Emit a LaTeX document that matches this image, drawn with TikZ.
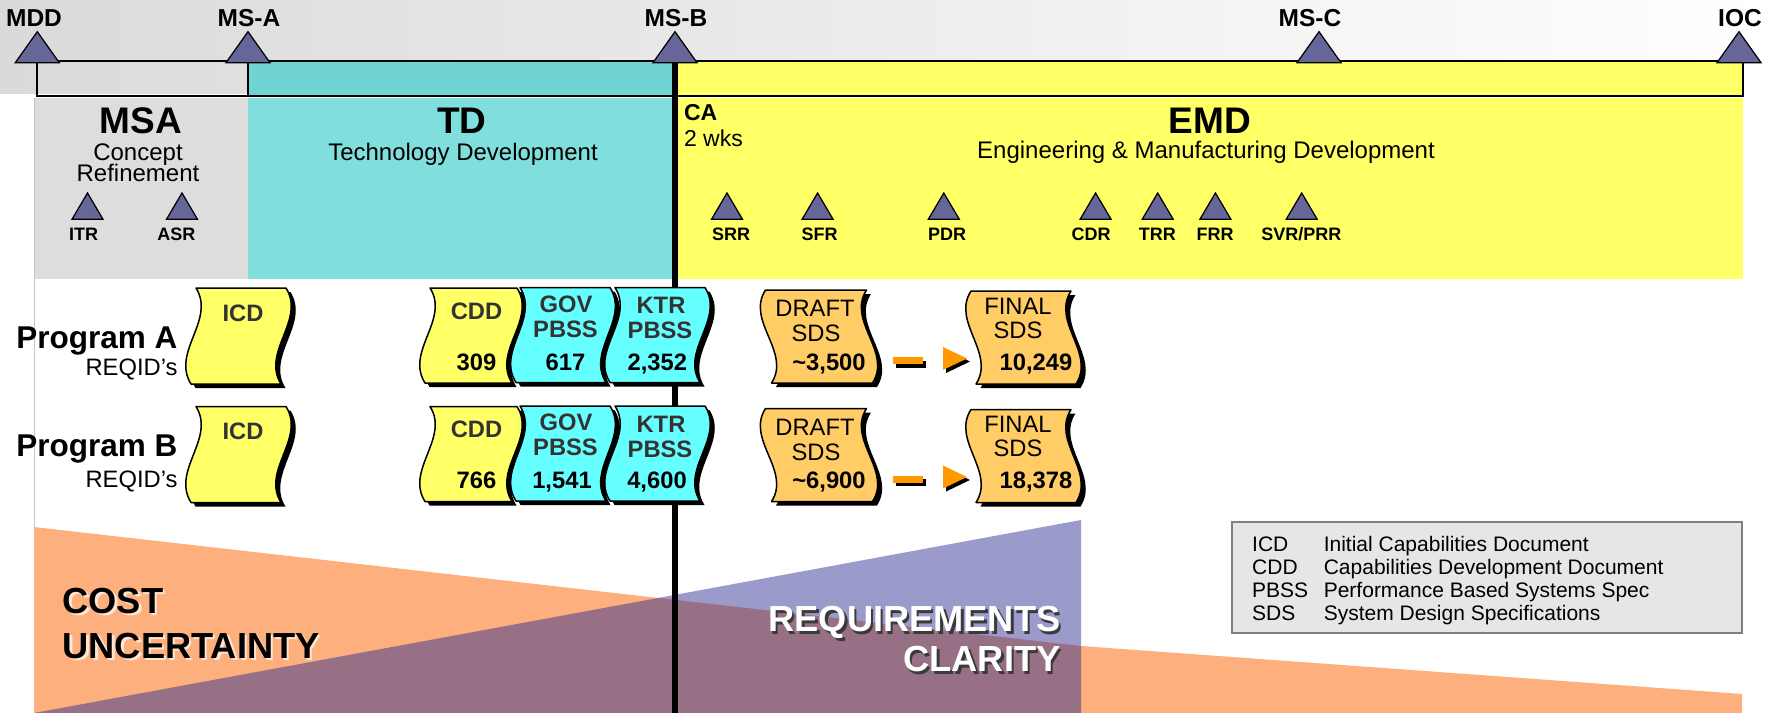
\documentclass[tikz,border=0pt]{standalone}
\usepackage{fontspec}
\setmainfont{Liberation Sans}

\definecolor{msfill}{HTML}{666699}
\definecolor{bandgray}{HTML}{DADADA}
\definecolor{msagray}{HTML}{DDDDDD}
\definecolor{tealdark}{HTML}{70D4D2}
\definecolor{teallight}{HTML}{80DFDD}
\definecolor{phaseyellow}{HTML}{FFFF66}
\definecolor{docyellow}{HTML}{FFFF66}
\definecolor{doccyan}{HTML}{66FFFF}
\definecolor{docorange}{HTML}{FFCC66}
\definecolor{arroworange}{HTML}{FF9900}
\definecolor{costorange}{HTML}{FDB07E}
\definecolor{costshadow}{HTML}{FFE6D2}
\definecolor{reqpurple}{RGB}{40,40,145}
\definecolor{reqshadow}{HTML}{3A3A3A}
\definecolor{legendfill}{HTML}{E6E6E6}
\definecolor{legendline}{HTML}{808080}
\definecolor{doctext}{HTML}{333333}

\newcommand{\fsz}[1]{\fontsize{#1}{#1}\selectfont}

% wavy document sheet with a drop shadow:
% name, left x of top edge, top y, width, height, bottom shift, wave reach, fill
\newcommand{\docbox}[8]{%
  \begin{scope}[shift={(#2,#3)}]
    \begin{scope}[shift={(4.5,4)}]
      \fill[black] (0,0) -- (#4,0)
        .. controls ({#4+(#7)},{#5/3}) and ({#4+(#6)-(#7)},{2*#5/3}) .. ({#4+(#6)},#5)
        -- (#6,#5)
        .. controls ({(#6)-(#7)},{2*#5/3}) and (#7,{#5/3}) .. (0,0) -- cycle;
    \end{scope}
    \filldraw[fill=#8, draw=black, line width=0.6pt, line join=round] (0,0) -- (#4,0)
      .. controls ({#4+(#7)},{#5/3}) and ({#4+(#6)-(#7)},{2*#5/3}) .. ({#4+(#6)},#5)
      -- (#6,#5)
      .. controls ({(#6)-(#7)},{2*#5/3}) and (#7,{#5/3}) .. (0,0) -- cycle;
    \coordinate (#1) at ({#4/2},{#5/2});
  \end{scope}}

% orange dash-and-head arrow between the SDS sheets, anchored at its left end
\newcommand{\sdsarrow}[1]{%
  \begin{scope}[shift={(#1)}]
    \fill[black] (3,3.5) rectangle (33,10.5);
    \fill[arroworange] (0,0) rectangle (30,7);
    \fill[black] (53,-7) -- (77,4.5) -- (53,16) -- cycle;
    \fill[arroworange] (50,-10) -- (74,1.5) -- (50,13) -- cycle;
  \end{scope}}

\begin{document}
\begin{tikzpicture}[x=0.4pt, y=-0.4pt,
  mslabel/.style={font=\bfseries\fsz{9.8pt}, anchor=base, inner sep=0pt},
  revlabel/.style={font=\bfseries\fsz{7.2pt}, anchor=base, inner sep=0pt},
  phasebig/.style={font=\bfseries\fsz{14.8pt}, anchor=base, inner sep=0pt},
  phasesub/.style={font=\fsz{9.6pt}, anchor=base, inner sep=0pt},
  progname/.style={font=\bfseries\fsz{12.6pt}, anchor=base east, inner sep=0pt},
  progsub/.style={font=\fsz{9.5pt}, anchor=base east, inner sep=0pt},
  doctitle/.style={font=\bfseries\fsz{9.5pt}, text=doctext, anchor=base, inner sep=0pt},
  docnum/.style={font=\bfseries\fsz{9.5pt}, anchor=base, inner sep=0pt},
  sdstitle/.style={font=\fsz{9.5pt}, anchor=base, inner sep=0pt},
  bigword/.style={font=\bfseries\fsz{14.5pt}, inner sep=0pt},
  legtext/.style={font=\fsz{8.4pt}, anchor=base west, inner sep=0pt},
  milestone/.style={fill=msfill, draw=black, line width=0.5pt, line join=miter},
  bracket/.style={line width=0.7pt},
]
\useasboundingbox (0,0) rectangle (1768,713);

% top band
\shade[left color=bandgray, right color=white] (0,0) rectangle (1768,93);

% milestone bracket
\fill[tealdark] (248,61) rectangle (675,95.7);
\fill[phaseyellow] (675,61) rectangle (1742.7,95.7);
\draw[bracket] (37.3,61) -- (1742.7,61);
\draw[bracket] (37.3,61) -- (37.3,95.7) -- (1742.7,95.7) -- (1742.7,61);
\draw[bracket] (248,61) -- (248,95.7);

% phase panels
\fill[msagray] (34,97.7) rectangle (248,278.5);
\fill[teallight] (248,97.7) rectangle (675,278.5);
\fill[phaseyellow] (675,97.7) rectangle (1742.7,278.5);
\draw[black!22, line width=0.4pt] (34,97.7) -- (34,713);

% cost uncertainty and requirements clarity wedges
\fill[costorange] (34,527) -- (1081,646) -- (1742,694) -- (1742,713) -- (34,713) -- cycle;
\fill[reqpurple, fill opacity=0.47] (34,713) -- (1081,520) -- (1081,713) -- cycle;

% milestone B divider
\draw[line width=2.1pt] (675,62.7) -- (675,713);

% major milestones
\foreach \x/\n in {37.3/mdd, 248/msa, 675/msb, 1319/msc, 1739/ioc}{
  \filldraw[milestone] (\x,31.7) -- ({\x+22},62.7) -- ({\x-22},62.7) -- cycle;
  \coordinate (\n) at (\x,31.7);
}
\node[mslabel] (mddlbl) at (34,26.7) {MDD};
\node[mslabel] (msalbl) at (249,26.7) {MS-A};
\node[mslabel] (msblbl) at (676,26.7) {MS-B};
\node[mslabel] (msclbl) at (1310,26.7) {MS-C};
\node[mslabel] (ioclbl) at (1740,26.7) {IOC};

% technical reviews
\foreach \x/\n in {87.5/itr, 182/asr, 727/srr, 817.6/sfr, 943.8/pdr, 1095.6/cdr, 1157.7/trr, 1215.4/frr, 1301.7/svr}{
  \filldraw[milestone] (\x,193) -- ({\x+15.5},219.3) -- ({\x-15.5},219.3) -- cycle;
  \coordinate (\n) at (\x,193);
}
\node[revlabel] (itrlbl) at (83.7,240) {ITR};
\node[revlabel] (asrlbl) at (176.3,240) {ASR};
\node[revlabel] (srrlbl) at (731,240.7) {SRR};
\node[revlabel] (sfrlbl) at (819.7,240.7) {SFR};
\node[revlabel] (pdrlbl) at (947,240.7) {PDR};
\node[revlabel] (cdrlbl) at (1091,240.7) {CDR};
\node[revlabel] (trrlbl) at (1157.3,240.7) {TRR};
\node[revlabel] (frrlbl) at (1215,240.7) {FRR};
\node[revlabel] (svrlbl) at (1301.3,240.7) {SVR/PRR};

% phase titles
\node[phasebig] (msatitle) at (141,133.3) {MSA};
\node[phasesub] (msasub1) at (138,160) {Concept};
\node[phasesub] (msasub2) at (138,181.7) {Refinement};
\node[phasebig] (tdtitle) at (462,133.3) {TD};
\node[phasesub] (tdsub) at (463,160.7) {Technology Development};
\node[font=\bfseries\fsz{9.2pt}, anchor=base west, inner sep=0pt] (catitle) at (683.5,120) {CA};
\node[font=\fsz{9.2pt}, anchor=base west, inner sep=0pt] (casub) at (683.5,146.7) {2 wks};
\node[phasebig] (emdtitle) at (1209.7,133.3) {EMD};
\node[phasesub] (emdsub) at (1206,158.3) {Engineering \& Manufacturing Development};

% program labels
\node[progname] (proga) at (178,348) {Program A};
\node[progsub] (progareq) at (178,375) {REQID's};
\node[progname] (progb) at (178,456) {Program B};
\node[progsub] (progbreq) at (178,487) {REQID's};

% Program A documents
\docbox{icdA}{196}{288}{90}{96}{-5}{20}{docyellow}
\docbox{cddA}{430}{288}{87}{95}{-5}{20}{docyellow}
\docbox{govA}{520}{287.5}{90}{95}{-4}{20}{doccyan}
\docbox{ktrA}{615}{287.5}{90}{95}{-5}{20}{doccyan}
\docbox{draftA}{765.5}{290}{101}{93}{6}{-20}{docorange}
\docbox{finalA}{971}{291}{100}{93}{5}{-20}{docorange}
\coordinate (arrA) at (893,357);
\sdsarrow{arrA}

% Program B documents
\docbox{icdB}{196}{406.5}{90}{96}{-5}{20}{docyellow}
\docbox{cddB}{430}{406.5}{87}{95}{-5}{20}{docyellow}
\docbox{govB}{520}{406}{90}{95}{-4}{20}{doccyan}
\docbox{ktrB}{615}{406}{90}{95}{-5}{20}{doccyan}
\docbox{draftB}{765.5}{408.5}{101}{93}{6}{-20}{docorange}
\docbox{finalB}{971}{409.5}{100}{93}{5}{-20}{docorange}
\coordinate (arrB) at (893,475.5);
\sdsarrow{arrB}

% document texts, Program A
\node[doctitle] (icdAt) at (243,321) {ICD};
\node[doctitle] (cddAt) at (476.5,319) {CDD};
\node[docnum] (cddAn) at (476.5,370) {309};
\node[doctitle] (govAt1) at (566,312) {GOV};
\node[doctitle] (govAt2) at (565.5,337) {PBSS};
\node[docnum] (govAn) at (565.5,370) {617};
\node[doctitle] (ktrAt1) at (661,313.5) {KTR};
\node[doctitle] (ktrAt2) at (660,338.5) {PBSS};
\node[docnum] (ktrAn) at (657.3,370) {2,352};
\node[sdstitle] (draftAt1) at (815,316.7) {DRAFT};
\node[sdstitle] (draftAt2) at (816,341.7) {SDS};
\node[docnum] (draftAn) at (829,370) {\textasciitilde3,500};
\node[sdstitle] (finalAt1) at (1018,314) {FINAL};
\node[sdstitle] (finalAt2) at (1018,338) {SDS};
\node[docnum] (finalAn) at (1036,370) {10,249};

% document texts, Program B
\node[doctitle] (icdBt) at (243,439.5) {ICD};
\node[doctitle] (cddBt) at (476.5,437.5) {CDD};
\node[docnum] (cddBn) at (476.5,488.5) {766};
\node[doctitle] (govBt1) at (566,430.5) {GOV};
\node[doctitle] (govBt2) at (565.5,455.5) {PBSS};
\node[docnum] (govBn) at (562,488.5) {1,541};
\node[doctitle] (ktrBt1) at (661,432) {KTR};
\node[doctitle] (ktrBt2) at (660,457) {PBSS};
\node[docnum] (ktrBn) at (657,488.5) {4,600};
\node[sdstitle] (draftBt1) at (815,435.2) {DRAFT};
\node[sdstitle] (draftBt2) at (816,460.2) {SDS};
\node[docnum] (draftBn) at (829,488.5) {\textasciitilde6,900};
\node[sdstitle] (finalBt1) at (1018,432.5) {FINAL};
\node[sdstitle] (finalBt2) at (1018,456.5) {SDS};
\node[docnum] (finalBn) at (1036,488.5) {18,378};

% wedge captions
\node[bigword, anchor=base west, text=costshadow] (cost1s) at (64.5,615.8) {COST};
\node[bigword, anchor=base west, text=costshadow] (cost2s) at (64.5,660.8) {UNCERTAINTY};
\node[bigword, anchor=base west] (cost1) at (62,613.3) {COST};
\node[bigword, anchor=base west] (cost2) at (62,658.3) {UNCERTAINTY};
\node[bigword, anchor=base east, text=reqshadow] (req1s) at (1063.5,634.2) {REQUIREMENTS};
\node[bigword, anchor=base east, text=reqshadow] (req2s) at (1063.5,674.2) {CLARITY};
\node[bigword, anchor=base east, text=white] (req1) at (1061,631.7) {REQUIREMENTS};
\node[bigword, anchor=base east, text=white] (req2) at (1061,671.7) {CLARITY};

% legend
\draw[fill=legendfill, draw=legendline, line width=0.7pt] (1231.7,522) rectangle (1742,633);
\coordinate (legend) at (1486.8,577.5);
\node[legtext] (lg1a) at (1251.7,551) {ICD};
\node[legtext] (lg1b) at (1323.3,551) {Initial Capabilities Document};
\node[legtext] (lg2a) at (1251.7,574.3) {CDD};
\node[legtext] (lg2b) at (1323.3,574.3) {Capabilities Development Document};
\node[legtext] (lg3a) at (1251.7,597.7) {PBSS};
\node[legtext] (lg3b) at (1323.3,597.7) {Performance Based Systems Spec};
\node[legtext] (lg4a) at (1251.7,620.3) {SDS};
\node[legtext] (lg4b) at (1323.3,620.3) {System Design Specifications};
\end{tikzpicture}
\end{document}
